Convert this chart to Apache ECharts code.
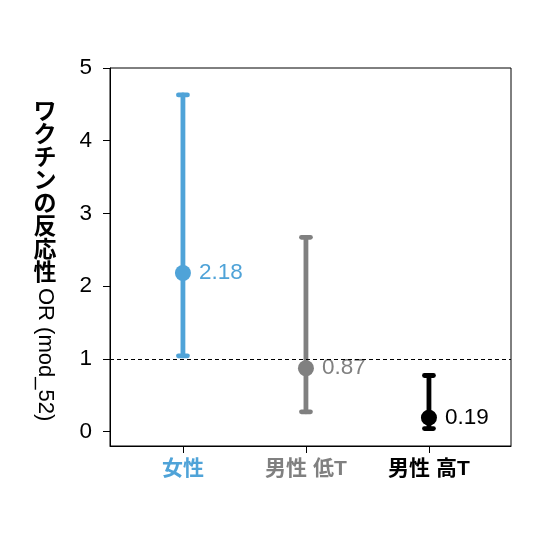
<!DOCTYPE html>
<html>
<head>
<meta charset="utf-8">
<script src="https://cdn.jsdelivr.net/npm/echarts@6/dist/echarts.min.js"></script>
<style>
html,body{margin:0;padding:0;background:#fff;}
#chart{width:540px;height:540px;}
</style>
</head>
<body>
<div id="chart"></div>
<script>
const categories = ['女性', '男性 低T', '男性 高T'];
const estimates = [2.18, 0.87, 0.19];
const lowerCI = [1.04, 0.27, 0.04];
const upperCI = [4.63, 2.67, 0.77];
const estimateLabels = ['2.18', '0.87', '0.19'];
const yTicks = [0, 1, 2, 3, 4, 5];
const catPositions = [1, 2, 3];
const colors = ['#4fa3d8', '#808080', '#000000'];
const refLine = 1;

const FONT = '"Liberation Sans", "Noto Sans CJK JP", sans-serif';

const chart = echarts.init(document.getElementById('chart'), null, {renderer: 'canvas'});

const errData = catPositions.map((x, i) => [x, lowerCI[i], upperCI[i]]);
const ptData = catPositions.map((x, i) => ({
  value: [x, estimates[i]],
  itemStyle: {color: colors[i], opacity: 1},
  label: {color: colors[i]}
}));

const option = {
  animation: false,
  backgroundColor: '#fff',
  grid: {left: 110, right: 29, top: 68, bottom: 94, show: true, borderColor: '#000', borderWidth: 1, backgroundColor: 'transparent'},
  xAxis: {
    type: 'value', min: 0.407, max: 3.667,
    splitLine: {show: false},
    axisLine: {show: true, onZero: false, lineStyle: {color: '#000', width: 1}},
    axisTick: {show: true, inside: false, length: 7, lineStyle: {color: '#000'}, customValues: catPositions},
    axisLabel: {
      customValues: catPositions, margin: 13,
      fontFamily: FONT, fontSize: 21, fontWeight: 'bold',
      formatter: (v) => {
        const i = catPositions.indexOf(Math.round(v));
        return i >= 0 ? '{c' + i + '|' + categories[i] + '}' : '';
      },
      rich: {
        c0: {color: colors[0], fontSize: 21, fontWeight: 'bold', fontFamily: FONT},
        c1: {color: colors[1], fontSize: 21, fontWeight: 'bold', fontFamily: FONT},
        c2: {color: colors[2], fontSize: 21, fontWeight: 'bold', fontFamily: FONT}
      }
    }
  },
  yAxis: {
    type: 'value', min: -0.2, max: 5,
    splitLine: {show: false},
    axisLine: {show: true, onZero: false, lineStyle: {color: '#000', width: 1}},
    axisTick: {show: true, inside: false, length: 7, lineStyle: {color: '#000'}, customValues: yTicks},
    axisLabel: {customValues: yTicks, margin: 18, color: '#000', fontSize: 22.5, fontFamily: FONT}
  },
  graphic: [
    {
      type: 'text', x: 45, y: 99,
      style: {
        text: 'ワ\nク\nチ\nン\nの\n反\n応\n性',
        font: 'bold 23px "Noto Sans CJK JP", sans-serif',
        lineHeight: 23, textAlign: 'center', textVerticalAlign: 'top', fill: '#000'
      }
    },
    {
      type: 'text', x: 45, y: 288, rotation: -Math.PI / 2,
      style: {
        text: 'OR (mod_52)',
        font: '22px "Liberation Sans", sans-serif',
        textAlign: 'left', textVerticalAlign: 'middle', fill: '#000'
      }
    }
  ],
  series: [
    {
      type: 'custom',
      data: errData,
      z: 2,
      renderItem: (params, api) => {
        const x = api.value(0);
        const pLo = api.coord([x, api.value(1)]);
        const pHi = api.coord([x, api.value(2)]);
        const cw = 4.5;
        const style = {stroke: colors[params.dataIndex], lineWidth: 4.8, lineCap: 'round', fill: null};
        return {
          type: 'group',
          children: [
            {type: 'line', shape: {x1: pLo[0], y1: pLo[1], x2: pHi[0], y2: pHi[1]}, style: style},
            {type: 'line', shape: {x1: pLo[0] - cw, y1: pLo[1], x2: pLo[0] + cw, y2: pLo[1]}, style: style},
            {type: 'line', shape: {x1: pHi[0] - cw, y1: pHi[1], x2: pHi[0] + cw, y2: pHi[1]}, style: style}
          ]
        };
      },
      markLine: {
        silent: true, symbol: 'none',
        lineStyle: {color: '#000', type: [4, 3], width: 1},
        label: {show: false},
        data: [{yAxis: refLine}]
      }
    },
    {
      type: 'scatter',
      data: ptData,
      z: 3,
      symbol: 'circle',
      symbolSize: 16,
      itemStyle: {opacity: 1},
      label: {
        show: true, position: 'right', distance: 8,
        fontSize: 22.5, fontFamily: FONT,
        formatter: (p) => estimateLabels[p.dataIndex]
      }
    }
  ]
};
chart.setOption(option);
</script>
</body>
</html>
